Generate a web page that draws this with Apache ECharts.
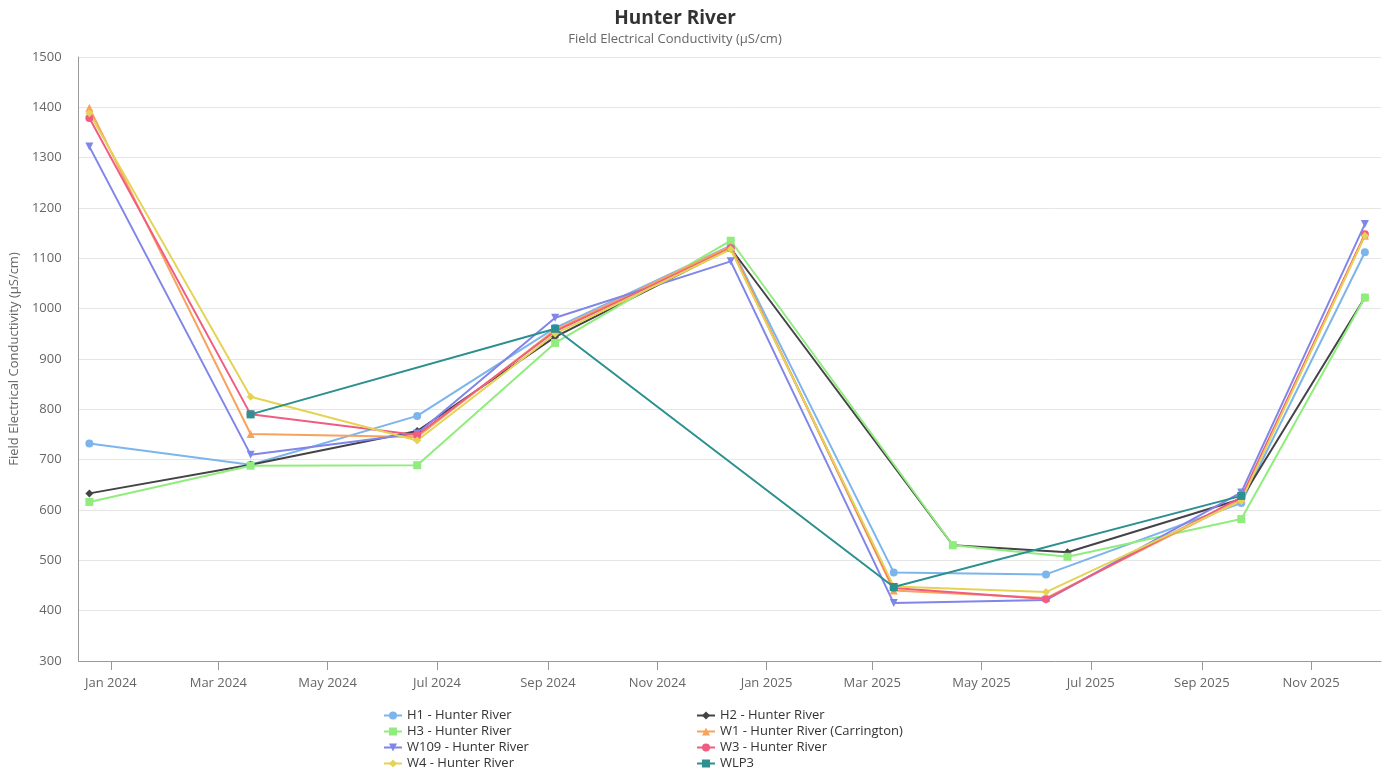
<!DOCTYPE html>
<html>
<head>
<meta charset="utf-8">
<script src="https://cdn.jsdelivr.net/npm/echarts@6/dist/echarts.min.js"></script>
<style>
html,body{margin:0;padding:0;background:#fff;}
#chart{width:1391px;height:771px;}
</style>
</head>
<body>
<div id="chart"></div>
<script>
// Sampling dates
const dates = ['2023-12-20','2024-03-19','2024-06-20','2024-09-05','2024-12-12','2025-03-13','2025-04-15','2025-06-06','2025-06-18','2025-09-23','2025-12-01'];
// Axis tick dates (every two months)
const tickDates = ['2024-01-01','2024-03-01','2024-05-01','2024-07-01','2024-09-01','2024-11-01','2025-01-01','2025-03-01','2025-05-01','2025-07-01','2025-09-01','2025-11-01'];
const monthNames = ['Jan','Feb','Mar','Apr','May','Jun','Jul','Aug','Sep','Oct','Nov','Dec'];

// Series values (null = no sample)
const h1   = [732, 690, 787, 962, 1125, 476, null, 472, null, 614, 1112];
const h2   = [633, 690, 757, 944, 1120, null, 530, null, 516, 622, 1022];
const h3   = [616, 688, 689, 932, 1135, null, 530, null, 507, 582, 1022];
const w1   = [1399, 751, 745, 958, 1124, 440, null, 425, null, 620, 1145];
const w109 = [1322, 710, 752, 982, 1094, 415, null, 421, null, 635, 1168];
const w3   = [1379, 790, 749, 955, 1120, 445, null, 423, null, 625, 1148];
const w4   = [1388, 825, 738, 950, 1118, 448, null, 437, null, 618, 1145];
const wlp3 = [null, 790, null, 960, null, 447, null, null, null, 628, null];

const seriesNames = ['H1 - Hunter River','H2 - Hunter River','H3 - Hunter River','W1 - Hunter River (Carrington)','W109 - Hunter River','W3 - Hunter River','W4 - Hunter River','WLP3'];
const seriesValues = [h1, h2, h3, w1, w109, w3, w4, wlp3];
const colors = ['#7cb5ec','#434348','#90ed7d','#f7a35c','#8085e9','#f15c80','#e4d354','#2b908f'];
const symbols = ['circle','diamond','rect','triangle','path://M0,0L10,0L5,10Z','circle','diamond','rect'];

const ts = d => new Date(d + 'T00:00:00Z').getTime();

const series = seriesNames.map((name, i) => ({
  name: name,
  type: 'line',
  data: dates.map((d, j) => [ts(d), seriesValues[i][j]]).filter(p => p[1] !== null),
  symbol: symbols[i],
  symbolSize: 8,
  showAllSymbol: true,
  lineStyle: { width: 2, color: colors[i] },
  itemStyle: { color: colors[i] },
  emphasis: { disabled: true },
  animation: false
}));

const fontFamily = '"Open Sans", "Noto Sans", sans-serif';
const legendCommon = {
  orient: 'vertical', top: 704, height: 90, itemGap: 3, itemWidth: 18, itemHeight: 10,
  textStyle: { fontSize: 13, color: '#333333', fontFamily: fontFamily }
};
const chart = echarts.init(document.getElementById('chart'));
chart.setOption({
  color: colors,
  textStyle: { fontFamily: fontFamily },
  title: {
    text: 'Hunter River',
    subtext: 'Field Electrical Conductivity (µS/cm)',
    left: 670,
    textAlign: 'center',
    top: 4,
    itemGap: 5,
    textStyle: { fontSize: 19, fontWeight: 'bold', color: '#333333', fontFamily: fontFamily },
    subtextStyle: { fontSize: 13, color: '#666666', fontFamily: fontFamily }
  },
  legend: [
    Object.assign({ data: [seriesNames[0], seriesNames[2], seriesNames[4], seriesNames[6]], left: 378 }, legendCommon),
    Object.assign({ data: [seriesNames[1], seriesNames[3], seriesNames[5], seriesNames[7]], left: 691 }, legendCommon)
  ],
  grid: { left: 74, right: 10, top: 57, bottom: 110, containLabel: false },
  xAxis: {
    type: 'value',
    min: ts('2023-12-14'),
    max: ts('2025-12-10'),
    axisLine: { show: true, lineStyle: { color: '#999999', width: 1 } },
    axisTick: { show: true, length: 9, lineStyle: { color: '#999999' }, customValues: tickDates.map(ts) },
    axisLabel: {
      customValues: tickDates.map(ts),
      color: '#666666', fontSize: 13, margin: 16,
      formatter: v => { const d = new Date(v); return monthNames[d.getUTCMonth()] + ' ' + d.getUTCFullYear(); }
    },
    splitLine: { show: false }
  },
  yAxis: {
    type: 'value',
    min: 300, max: 1500, interval: 100,
    name: 'Field Electrical Conductivity (µS/cm)',
    nameLocation: 'middle',
    nameGap: 47,
    nameTextStyle: { color: '#666666', fontSize: 13, fontFamily: fontFamily },
    axisLine: { show: true, lineStyle: { color: '#999999', width: 1 } },
    axisTick: { show: false },
    axisLabel: { color: '#666666', fontSize: 13, margin: 17, formatter: v => String(v) },
    splitLine: { show: true, lineStyle: { color: '#e6e6e6', width: 1 } }
  },
  tooltip: { show: false },
  series: series
});
</script>
</body>
</html>
